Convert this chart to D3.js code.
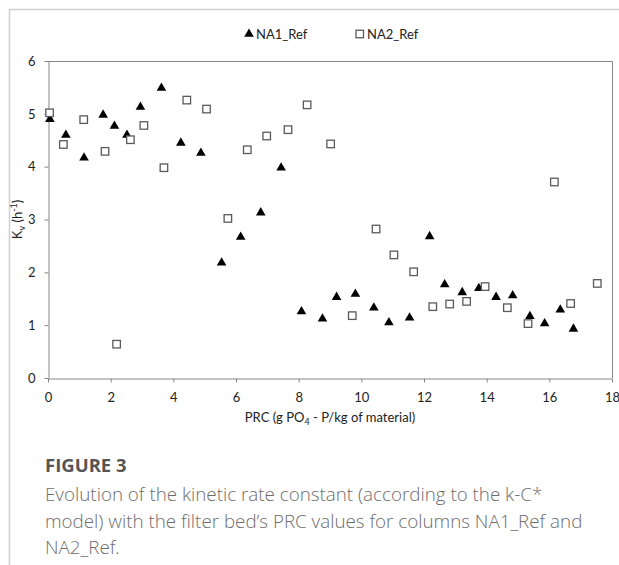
<!DOCTYPE html>
<html>
<head>
  <meta charset="utf-8">
  <script src="https://cdnjs.cloudflare.com/ajax/libs/d3/7.8.5/d3.min.js"></script>
  <style>
    body { margin: 0; background: #fff; }
    svg { display: block; }
  </style>
</head>
<body>
  <script>
  // NA1_Ref (filled triangles)
  var na1X = [0.06, 0.57, 1.15, 1.76, 2.12, 2.52, 2.95, 3.62, 4.24, 4.88, 5.54, 6.15, 6.79, 7.44,
              8.09, 8.76, 9.21, 9.81, 10.40, 10.88, 11.54, 12.18, 12.66, 13.22, 13.75, 14.30, 14.83,
              15.38, 15.85, 16.35, 16.77];
  var na1Y = [4.90, 4.60, 4.17, 4.98, 4.77, 4.60, 5.13, 5.49, 4.45, 4.26, 2.18, 2.67, 3.13, 3.98,
              1.26, 1.12, 1.53, 1.59, 1.33, 1.05, 1.14, 2.68, 1.77, 1.62, 1.70, 1.53, 1.56,
              1.17, 1.03, 1.29, 0.93];

  // NA2_Ref (open squares)
  var na2X = [0.05, 0.49, 1.14, 1.82, 2.19, 2.63, 3.06, 3.70, 4.43, 5.06, 5.74, 6.36, 6.98, 7.66,
              8.27, 9.02, 9.71, 10.47, 11.04, 11.67, 12.28, 12.82, 13.36, 13.95, 14.66, 15.32,
              16.16, 16.68, 17.53];
  var na2Y = [5.02, 4.42, 4.89, 4.29, 0.64, 4.51, 4.78, 3.98, 5.26, 5.09, 3.02, 4.32, 4.58, 4.70,
              5.17, 4.43, 1.18, 2.82, 2.33, 2.01, 1.35, 1.40, 1.45, 1.73, 1.33, 1.03,
              3.71, 1.41, 1.79];

  var xTicks = [0, 2, 4, 6, 8, 10, 12, 14, 16, 18];
  var yTicks = [0, 1, 2, 3, 4, 5, 6];
  var seriesNames = ["NA1_Ref", "NA2_Ref"];

  var w = 619, h = 565;
  var plotL = 48, plotR = 612, plotT = 61, plotB = 378;
  var axisGray = "#868686";
  var tickFont = "Lato, 'Open Sans', sans-serif";

  var svg = d3.select("body").append("svg")
    .attr("width", w)
    .attr("height", h);

  // page frame (top and left rules)
  svg.append("line").attr("x1", 9).attr("y1", 9.5).attr("x2", w).attr("y2", 9.5)
    .attr("stroke", "#cfcfcf").attr("stroke-width", 1.5);
  svg.append("line").attr("x1", 9.5).attr("y1", 9).attr("x2", 9.5).attr("y2", h)
    .attr("stroke", "#cfcfcf").attr("stroke-width", 1.5);

  var x = d3.scaleLinear().domain([0, 18]).range([plotL, plotR]);
  var y = d3.scaleLinear().domain([0, 6]).range([plotB, plotT]);

  // plot border (top / right)
  svg.append("path")
    .attr("d", "M" + plotL + "," + (plotT + 0.5) + "H" + (plotR + 0.5) + "V" + plotB)
    .attr("fill", "none").attr("stroke", axisGray);

  var xAxis = svg.append("g")
    .attr("transform", "translate(0," + (plotB + 0.5) + ")")
    .call(d3.axisBottom(x).tickValues(xTicks).tickFormat(d3.format("d"))
      .tickSizeInner(4).tickSizeOuter(0).tickPadding(10));
  var yAxis = svg.append("g")
    .attr("transform", "translate(" + (plotL + 0.5) + ",0)")
    .call(d3.axisLeft(y).tickValues(yTicks).tickFormat(d3.format("d"))
      .tickSizeInner(4).tickSizeOuter(0).tickPadding(9));

  [xAxis, yAxis].forEach(function(g) {
    g.select(".domain").attr("stroke", axisGray);
    g.selectAll(".tick line").attr("stroke", axisGray);
    g.selectAll(".tick text")
      .attr("fill", "#222")
      .style("font-family", tickFont)
      .style("font-size", "13px");
  });

  // axis titles
  var xt = svg.append("text")
    .attr("x", (plotL + plotR) / 2).attr("y", 422)
    .attr("text-anchor", "middle")
    .style("font-family", tickFont).style("font-size", "13px").attr("fill", "#222");
  xt.append("tspan").text("PRC (g PO");
  xt.append("tspan").attr("dy", 3).style("font-size", "9px").text("4");
  xt.append("tspan").attr("dy", -3).text(" - P/kg of material)");

  var yt = svg.append("text")
    .attr("transform", "translate(22," + (plotT + plotB) / 2 + ") rotate(-90)")
    .attr("text-anchor", "middle")
    .style("font-family", tickFont).style("font-size", "13px").attr("fill", "#222");
  yt.append("tspan").text("K");
  yt.append("tspan").attr("dy", 3).style("font-size", "9px").text("v");
  yt.append("tspan").attr("dy", -3).text(" (h");
  yt.append("tspan").attr("dy", -5).style("font-size", "9px").text("-1");
  yt.append("tspan").attr("dy", 5).text(")");

  var triangle = d3.symbol().type(d3.symbolTriangle).size(40);

  // NA1 points
  svg.append("g").selectAll("path")
    .data(d3.range(na1X.length))
    .enter()
    .append("path")
    .attr("d", triangle)
    .attr("transform", function(i) { return "translate(" + x(na1X[i]) + "," + y(na1Y[i]) + ")"; })
    .attr("fill", "#000");

  // NA2 points
  var sq = 7.5;
  svg.append("g").selectAll("rect")
    .data(d3.range(na2X.length))
    .enter()
    .append("rect")
    .attr("x", function(i) { return x(na2X[i]) - sq / 2; })
    .attr("y", function(i) { return y(na2Y[i]) - sq / 2; })
    .attr("width", sq)
    .attr("height", sq)
    .attr("fill", "#fff")
    .attr("stroke", "#5a5a5a")
    .attr("stroke-width", 1.3);

  // legend
  var lg = svg.append("g").attr("transform", "translate(0,34)");
  lg.append("path").attr("d", triangle).attr("transform", "translate(249,0)").attr("fill", "#000");
  lg.append("text").attr("x", 256).attr("y", 4.5).text(seriesNames[0])
    .style("font-family", tickFont).style("font-size", "13px").attr("fill", "#222");
  lg.append("rect").attr("x", 356).attr("y", -3.75).attr("width", sq).attr("height", sq)
    .attr("fill", "#fff").attr("stroke", "#5a5a5a").attr("stroke-width", 1.3);
  lg.append("text").attr("x", 367).attr("y", 4.5).text(seriesNames[1])
    .style("font-family", tickFont).style("font-size", "13px").attr("fill", "#222");

  // caption
  var capFont = "'Open Sans', sans-serif";
  svg.append("text")
    .attr("x", 45).attr("y", 472)
    .text("FIGURE 3")
    .style("font-family", capFont).style("font-size", "18.5px").style("font-weight", "bold")
    .attr("fill", "#555");
  var capLines = [
    "Evolution of the kinetic rate constant (according to the k-C*",
    "model) with the filter bed\u2019s PRC values for columns NA1_Ref and",
    "NA2_Ref."
  ];
  svg.append("g").selectAll("text")
    .data(capLines)
    .enter()
    .append("text")
    .attr("x", 45)
    .attr("y", function(d, i) { return 501 + i * 26.5; })
    .text(function(d) { return d; })
    .style("font-family", capFont).style("font-size", "18.8px").style("font-weight", 300)
    .attr("fill", "#6d6d6d");
  </script>
</body>
</html>
